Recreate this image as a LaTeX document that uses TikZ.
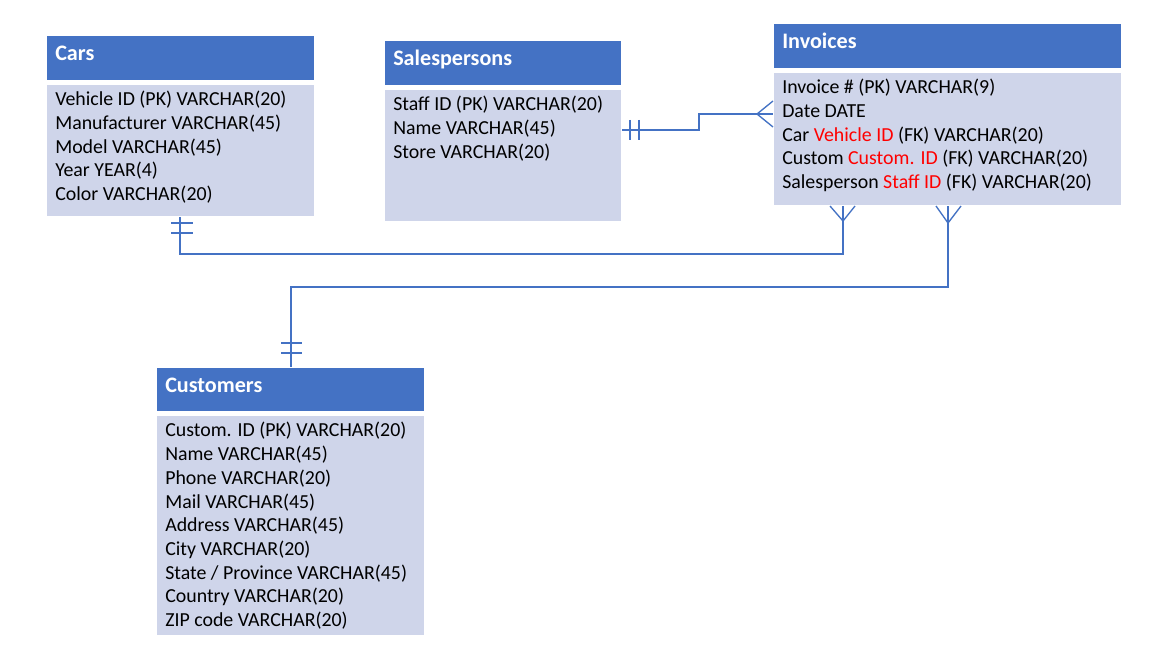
\documentclass[tikz,border=0pt]{standalone}
\usepackage{fontspec}
\setmainfont{Carlito}
\usetikzlibrary{calc}
\definecolor{hdr}{HTML}{4472C4}
\definecolor{bdy}{HTML}{CFD5EA}
\definecolor{lnk}{HTML}{4472C4}
\definecolor{fk}{HTML}{FF0000}
\begin{document}
\begin{tikzpicture}[x=0.75pt,y=-0.75pt,
  hdrbox/.style={fill=hdr, draw=white, line width=0.75pt, anchor=north west, inner sep=0pt, minimum height=33.75pt},
  bodybox/.style={fill=bdy, draw=white, line width=0.75pt, anchor=north west, inner sep=0pt},
  title/.style={anchor=base west, text=white, inner sep=0pt, font=\fontsize{16.6}{19}\selectfont\bfseries},
  rows/.style={anchor=north west, align=left, inner sep=0pt, font=\fontsize{14.9}{17.8}\selectfont},
  rel/.style={draw=lnk, line width=1pt}]
\useasboundingbox[fill=white] (0,0) rectangle (1159,652);

% Cars
\node[hdrbox, minimum width=201pt] (carsh) at (46,35) {};
\node[title] (carst) at ($(carsh.north west)+(9,25.5)$) {Cars};
\node[bodybox, minimum width=201pt, minimum height=99pt] (carsb) at (46,84) {};
\node[rows] (carsr) at ($(carsb.north west)+(9,7)$) {Vehicle ID (PK) VARCHAR(20)\\Manufacturer VARCHAR(45)\\Model VARCHAR(45)\\Year YEAR(4)\\Color VARCHAR(20)};

% Salespersons
\node[hdrbox, minimum width=177.75pt] (salesh) at (384,40) {};
\node[title] (salest) at ($(salesh.north west)+(9,25.5)$) {Salespersons};
\node[bodybox, minimum width=177.75pt, minimum height=99pt] (salesb) at (384,89) {};
\node[rows] (salesr) at ($(salesb.north west)+(9,7)$) {Staff ID (PK) VARCHAR(20)\\Name VARCHAR(45)\\Store VARCHAR(20)};

% Invoices
\node[hdrbox, minimum width=261pt] (invh) at (773,23) {};
\node[title] (invt) at ($(invh.north west)+(9,25.5)$) {Invoices};
\node[bodybox, minimum width=261pt, minimum height=99.75pt] (invb) at (773,72) {};
\node[rows] (invr) at ($(invb.north west)+(9,7)$) {Invoice \# (PK) VARCHAR(9)\\Date DATE\\Car \textcolor{fk}{Vehicle ID} (FK) VARCHAR(20)\\Custom \textcolor{fk}{Custom. ID} (FK) VARCHAR(20)\\Salesperson \textcolor{fk}{Staff ID} (FK) VARCHAR(20)};

% Customers
\node[hdrbox, minimum width=201pt, minimum height=33pt] (custh) at (156,367) {};
\node[title] (custt) at ($(custh.north west)+(9,25.5)$) {Customers};
\node[bodybox, minimum width=201pt, minimum height=165pt] (custb) at (156,415) {};
\node[rows] (custr) at ($(custb.north west)+(9,7)$) {Custom. ID (PK) VARCHAR(20)\\Name VARCHAR(45)\\Phone VARCHAR(20)\\Mail VARCHAR(45)\\Address VARCHAR(45)\\City VARCHAR(20)\\State / Province VARCHAR(45)\\Country VARCHAR(20)\\ZIP code VARCHAR(20)};

% Cars -- Invoices
\coordinate (c1) at ($(carsb.south west)+(134,0)$);
\coordinate (i1) at ($(invb.south west)+(70,0)$);
\draw[rel] (c1) |- ($(i1)+(0,48)$) -- (i1);
\draw[rel] ($(c1)+(-9,6)$) -- ++(22,0) ($(c1)+(-9,16)$) -- ++(22,0);
\draw[rel] ($(i1)+(-13,0)$) -- ($(i1)+(0,15)$) -- ($(i1)+(12,0)$);

% Customers -- Invoices
\coordinate (k1) at ($(custh.north west)+(135,0)$);
\coordinate (i2) at ($(invb.south west)+(175,0)$);
\draw[rel] (k1) |- ($(i2)+(0,81)$) -- (i2);
\draw[rel] ($(k1)+(-10,-24)$) -- ++(21,0) ($(k1)+(-10,-14)$) -- ++(21,0);
\draw[rel] ($(i2)+(-12,0)$) -- ($(i2)+(0,17)$) -- ($(i2)+(13,0)$);

% Salespersons -- Invoices
\coordinate (s1) at ($(salesb.north east)+(0,41)$);
\coordinate (i3) at ($(invb.north west)+(0,42)$);
\draw[rel] (s1) -- ++(77,0) |- (i3);
\draw[rel] ($(s1)+(8,-10)$) -- ++(0,20) ($(s1)+(17,-10)$) -- ++(0,20);
\draw[rel] ($(i3)+(0,-13)$) -- ($(i3)+(-16,0)$) -- ($(i3)+(0,13)$);
\end{tikzpicture}
\end{document}
